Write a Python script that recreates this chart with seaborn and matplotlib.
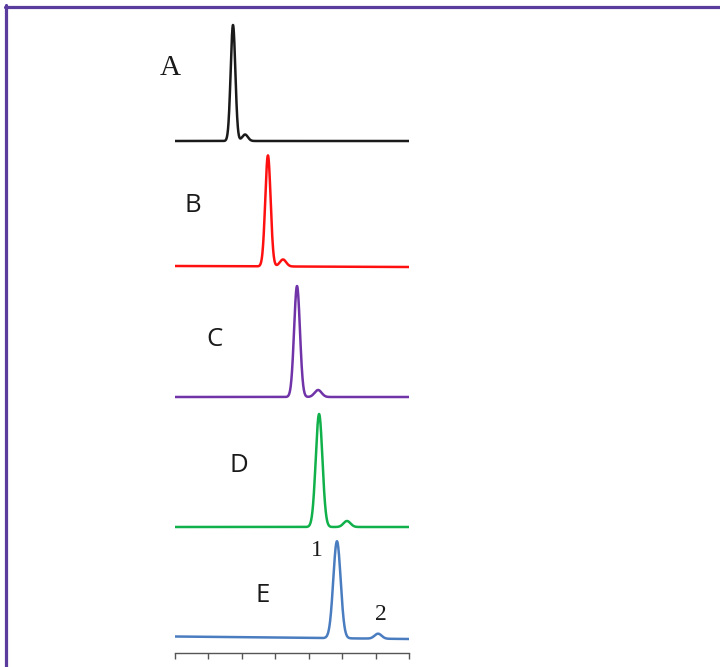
import numpy as np
import pandas as pd
import matplotlib
matplotlib.use("Agg")
import matplotlib.pyplot as plt
from matplotlib.lines import Line2D
import seaborn as sns

# ---- data (time axis 0..14, intensity in arbitrary units) ----
traces = ["A", "B", "C", "D", "E"]
baseline_start = [512.0, 387.0, 256.0, 126.0, 16.5]
baseline_end = [512.0, 386.0, 256.0, 126.0, 14.0]
main_rt = [3.47, 5.56, 7.30, 8.62, 9.69]
main_height = [116.0, 111.0, 111.0, 113.0, 97.0]
main_width = [0.14, 0.16, 0.175, 0.2, 0.22]
minor_rt = [4.19, 6.46, 8.56, 10.29, 12.15]
minor_height = [6.5, 7.0, 7.0, 6.0, 5.0]
minor_width = [0.17, 0.19, 0.21, 0.21, 0.21]
colors = ["#1a1a1a", "#ff1010", "#7033a8", "#10b04a", "#4a7cc0"]
x_ticks = [0, 2, 4, 6, 8, 10, 12, 14]

t = np.linspace(0, 14, 1401)
rows = []
for i, name in enumerate(traces):
    base = baseline_start[i] + (baseline_end[i] - baseline_start[i]) * t / 14.0
    y = (base
         + main_height[i] * np.exp(-(t - main_rt[i]) ** 2 / (2 * main_width[i] ** 2))
         + minor_height[i] * np.exp(-(t - minor_rt[i]) ** 2 / (2 * minor_width[i] ** 2)))
    rows.append(pd.DataFrame({"time": t, "signal": y, "trace": name}))
df = pd.concat(rows, ignore_index=True)

sns.set_style("white")
W, H = 720, 667
fig = plt.figure(figsize=(W / 100, H / 100), dpi=100)
ax = fig.add_axes([175 / W, (H - 653) / H, (409 - 175) / W, (653 - 15) / H])

sns.lineplot(data=df, x="time", y="signal", hue="trace", palette=colors,
             estimator=None, sort=False, legend=False, linewidth=1.8, ax=ax)

ax.set_xlim(0, 14)
ax.set_ylim(0, 638)
ax.set_xticks(x_ticks)
ax.set_yticks([])
ax.set_xlabel("")
ax.set_ylabel("")
for s in ["left", "top", "right"]:
    ax.spines[s].set_visible(False)
ax.spines["bottom"].set_color("#555555")
ax.spines["bottom"].set_linewidth(1.0)
ax.tick_params(axis="x", direction="out", length=4, width=1, color="#555555",
               labelbottom=False, bottom=True)

# trace labels
label_pos = [(170, 68), (193, 205), (215, 340), (239, 466), (263, 596)]
for i, name in enumerate(traces):
    x, y = label_pos[i]
    if name == "A":
        fig.text(x / W, 1 - y / H, name, ha="center", va="center",
                 family="Liberation Serif", fontsize=21, color="#1a1a1a")
    else:
        fig.text(x / W, 1 - y / H, name, ha="center", va="center",
                 family="Open Sans", fontsize=18.5, color="#1a1a1a")

peak_labels = ["1", "2"]
peak_label_pos = [(317, 551), (381, 614)]
for lab, (x, y) in zip(peak_labels, peak_label_pos):
    fig.text(x / W, 1 - y / H, lab, ha="center", va="center",
             family="Liberation Serif", fontsize=17, color="#1a1a1a")

# purple frame (top and left edges visible)
frame_color = "#5a3c9e"
fig.add_artist(Line2D([5 / W, 1.0], [1 - 6.5 / H, 1 - 6.5 / H],
                      transform=fig.transFigure, color=frame_color, linewidth=2.3))
fig.add_artist(Line2D([6.5 / W, 6.5 / W], [1 - 5 / H, 0.0],
                      transform=fig.transFigure, color=frame_color, linewidth=2.3))

fig.savefig("out.png", dpi=100)
